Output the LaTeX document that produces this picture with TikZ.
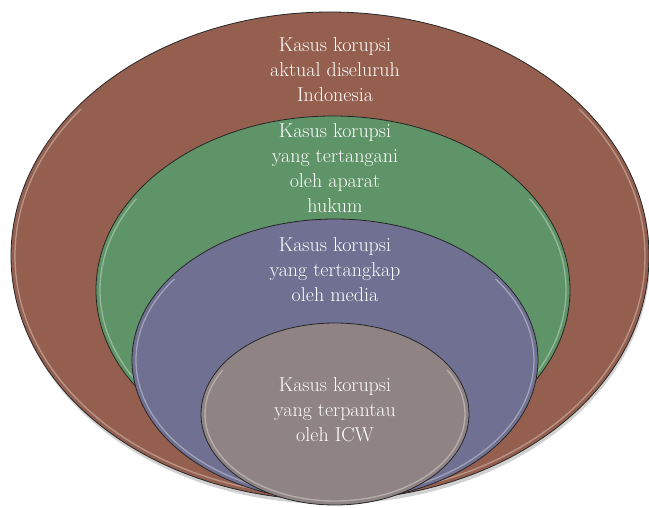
\documentclass[tikz,border=0pt]{standalone}
\usetikzlibrary{shapes.geometric}
\definecolor{cbrown}{HTML}{945F4E}
\definecolor{cgreen}{HTML}{5F9468}
\definecolor{cblue}{HTML}{707092}
\definecolor{cgray}{HTML}{8F8383}
\begin{document}
\begin{tikzpicture}[x=1pt,y=-1pt,
  ring/.style={ellipse, draw=black!85, line width=0.8pt, inner sep=0pt, outer sep=0pt},
  rim/.style={white, opacity=0.35, line width=1.3pt},
  lbl/.style={text=white, align=center, font=\fontsize{20}{25}\selectfont}]
\useasboundingbox (0,0) rectangle (649,508);
\fill[white] (0,0) rectangle (649,508);
% soft shadow
\fill[black, opacity=0.18] (331,259) ellipse [x radius=319pt, y radius=245pt];
% outer ring
\node[ring, fill=cbrown, minimum width=638pt, minimum height=488pt] (brown) at (330,256) {};
\begin{scope}
  \clip (0,110) rectangle (649,508);
  \draw[rim] (330,256) ellipse [x radius=315pt, y radius=240pt];
\end{scope}
% second ring
\node[ring, fill=cgreen, minimum width=474pt, minimum height=348pt] (green) at (333,290) {};
\begin{scope}
  \clip (0,200) rectangle (649,508);
  \draw[rim] (333,290) ellipse [x radius=233pt, y radius=170pt];
\end{scope}
% third ring
\node[ring, fill=cblue, minimum width=406pt, minimum height=282pt] (blue) at (335,360) {};
\begin{scope}
  \clip (0,280) rectangle (649,508);
  \draw[rim] (335,360) ellipse [x radius=199pt, y radius=137pt];
\end{scope}
% inner ring
\node[ring, fill=cgray, minimum width=268pt, minimum height=182pt] (gray) at (335,414) {};
\begin{scope}
  \clip (0,370) rectangle (649,508);
  \draw[rim] (335,414) ellipse [x radius=130pt, y radius=87pt];
\end{scope}
% labels
\node[lbl] (t1) at (335,70) {Kasus korupsi\\aktual diseluruh\\Indonesia};
\node[lbl] (t2) at (335,168) {Kasus korupsi\\yang tertangani\\oleh aparat\\hukum};
\node[lbl] (t3) at (335,270) {Kasus korupsi\\yang tertangkap\\oleh media};
\node[lbl] (t4) at (335,410) {Kasus korupsi\\yang terpantau\\oleh ICW};
\end{tikzpicture}
\end{document}
